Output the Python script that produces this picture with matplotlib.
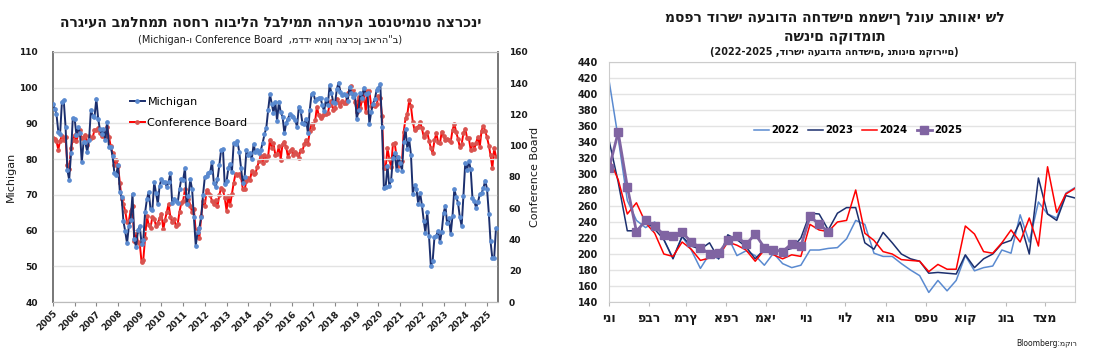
import pandas as pd
import numpy as np
import matplotlib
matplotlib.use("Agg")
import matplotlib.pyplot as plt

plt.rcParams["font.family"] = ["DejaVu Sans"]

# ---------- left panel: consumer sentiment, monthly 2005-01 .. 2025-06 ----------
michigan = [
    95.5, 94.1, 92.6, 87.7, 86.9, 96.0, 96.5, 89.1, 76.9, 74.2, 81.6, 91.5,   # 2005
    91.2, 86.7, 88.9, 87.4, 79.1, 84.9, 84.7, 82.0, 85.4, 93.6, 92.1, 91.7,   # 2006
    96.9, 91.3, 88.4, 87.1, 88.3, 85.3, 90.4, 83.4, 83.4, 80.9, 76.1, 75.5,   # 2007
    78.4, 70.8, 69.5, 62.6, 59.8, 56.4, 61.2, 63.0, 70.3, 57.6, 55.3, 60.1,   # 2008
    61.2, 56.3, 57.3, 65.1, 68.7, 70.8, 66.0, 65.7, 73.5, 70.6, 67.4, 72.5,   # 2009
    74.4, 73.6, 73.6, 72.2, 73.6, 76.0, 67.8, 68.9, 68.2, 67.7, 71.6, 74.5,   # 2010
    74.2, 77.5, 67.5, 69.8, 74.3, 71.5, 63.7, 55.8, 59.5, 60.8, 63.7, 69.9,   # 2011
    75.0, 75.3, 76.2, 76.4, 79.3, 73.2, 72.3, 74.3, 78.3, 82.6, 82.7, 72.9,   # 2012
    73.8, 77.6, 78.6, 76.4, 84.5, 84.1, 85.1, 82.1, 77.5, 73.2, 75.1, 82.5,   # 2013
    81.2, 81.6, 80.0, 84.1, 81.9, 82.5, 81.8, 82.5, 84.6, 86.9, 88.8, 93.6,   # 2014
    98.1, 95.4, 93.0, 95.9, 90.7, 96.1, 93.1, 91.9, 87.2, 90.0, 91.3, 92.6,   # 2015
    92.0, 91.7, 91.0, 89.0, 94.7, 93.5, 90.0, 89.8, 91.2, 87.2, 93.8, 98.2,   # 2016
    98.5, 96.3, 96.9, 97.0, 97.1, 95.0, 93.4, 96.8, 95.1, 100.7, 98.5, 95.9,  # 2017
    95.7, 99.7, 101.4, 98.8, 98.0, 98.2, 97.9, 96.2, 100.1, 98.6, 97.5, 98.3, # 2018
    91.2, 93.8, 98.4, 97.2, 100.0, 98.2, 98.4, 89.8, 93.2, 95.5, 96.8, 99.3,  # 2019
    99.8, 101.0, 89.1, 71.8, 72.3, 78.1, 72.5, 74.1, 80.4, 81.8, 76.9, 80.7,  # 2020
    79.0, 76.8, 84.9, 88.3, 82.9, 85.5, 81.2, 70.3, 72.8, 71.7, 67.4, 70.6,   # 2021
    67.2, 62.8, 59.4, 65.2, 58.4, 50.0, 51.5, 58.2, 58.6, 59.9, 56.8, 59.7,   # 2022
    64.9, 67.0, 62.0, 63.5, 59.0, 64.2, 71.6, 69.4, 67.8, 63.8, 61.3, 69.7,   # 2023
    79.0, 76.9, 79.4, 77.2, 69.1, 68.2, 66.4, 67.9, 70.1, 70.5, 71.8, 74.0,   # 2024
    71.7, 64.7, 57.0, 52.2, 52.2, 60.7,                                       # 2025
]

conf_board = [
    105.1, 104.4, 103.0, 97.5, 103.1, 106.2, 103.6, 105.5, 87.5, 85.2, 98.3, 103.8,
    106.8, 102.7, 107.5, 109.8, 104.7, 105.4, 107.0, 100.2, 105.9, 105.1, 105.3, 110.0,
    110.2, 111.2, 108.2, 106.3, 108.5, 105.3, 111.9, 105.6, 99.5, 95.2, 87.8, 90.6,
    87.3, 76.4, 65.9, 62.8, 58.1, 51.0, 51.9, 58.5, 61.4, 38.8, 44.7, 38.6,
    37.4, 25.3, 26.9, 40.8, 54.8, 49.3, 47.4, 54.5, 53.4, 48.7, 50.6, 53.6,
    56.5, 46.4, 52.3, 57.7, 62.7, 54.3, 51.0, 53.2, 48.6, 49.9, 57.8, 63.4,
    64.8, 72.0, 63.8, 66.0, 61.7, 57.6, 59.2, 45.2, 46.4, 40.9, 55.2, 64.8,
    61.5, 71.6, 69.5, 68.7, 64.4, 62.7, 65.4, 61.3, 68.4, 73.1, 71.5, 66.7,
    58.4, 68.0, 61.9, 69.0, 76.2, 82.1, 81.0, 81.8, 80.2, 72.4, 72.0, 77.5,
    79.4, 78.3, 83.9, 81.7, 82.2, 86.4, 90.3, 93.4, 89.0, 94.1, 91.0, 93.1,
    103.8, 98.8, 101.4, 94.3, 94.6, 99.8, 91.0, 101.3, 102.6, 99.1, 92.6, 96.3,
    97.8, 94.0, 96.1, 94.7, 92.4, 97.4, 96.7, 101.1, 103.5, 100.8, 109.4, 113.7,
    111.6, 116.1, 124.9, 119.4, 117.6, 118.9, 120.0, 120.4, 120.6, 126.2, 128.6, 123.1,
    124.3, 130.0, 127.0, 125.6, 128.8, 127.1, 127.4, 133.4, 135.3, 137.9, 135.7, 128.1,
    121.7, 131.4, 124.2, 129.2, 134.1, 121.5, 135.7, 135.1, 125.1, 125.9, 125.5, 126.5,
    131.6, 130.7, 118.8, 85.7, 85.9, 98.3, 91.7, 86.3, 101.3, 101.4, 92.9, 87.1,
    88.9, 90.4, 109.0, 117.5, 120.0, 128.9, 125.1, 115.2, 109.8, 111.6, 111.9, 115.2,
    111.1, 105.7, 107.6, 108.6, 103.2, 98.4, 95.3, 103.6, 107.8, 102.2, 101.4, 109.0,
    106.0, 103.4, 104.0, 103.7, 102.5, 110.1, 114.0, 108.7, 104.3, 99.1, 101.0, 108.0,
    110.9, 104.8, 104.7, 97.5, 101.3, 97.8, 101.9, 105.6, 99.2, 109.6, 112.8, 109.5,
    105.3, 100.1, 93.9, 85.7, 98.4, 93.0,
]

years = list(range(2005, 2026))

# ---------- right panel: weekly initial jobless claims (thousands, NSA) ----------
claims_2022 = [417, 345, 267, 242, 233, 240, 218, 195, 222, 205, 182, 200, 194,
               222, 198, 204, 198, 186, 201, 188, 183, 186, 205, 205, 207, 208,
               219, 242, 237, 201, 197, 197, 188, 180, 173, 152, 167, 154, 167,
               198, 179, 183, 185, 205, 201, 249, 215, 265, 250, 245, 276, 283]
claims_2023 = [342, 290, 229, 229, 241, 231, 218, 194, 222, 210, 206, 214, 194,
               224, 218, 209, 194, 206, 205, 204, 207, 220, 251, 250, 230, 251,
               258, 258, 214, 206, 227, 214, 200, 194, 191, 176, 177, 176, 175,
               199, 183, 194, 200, 213, 217, 240, 200, 295, 250, 242, 273, 270]
claims_2024 = [319, 293, 250, 264, 239, 226, 200, 197, 215, 206, 192, 195, 197,
               215, 211, 205, 191, 205, 199, 194, 199, 197, 237, 230, 228, 240,
               242, 280, 226, 217, 203, 200, 193, 192, 191, 178, 187, 181, 181,
               235, 225, 203, 201, 214, 230, 215, 245, 210, 309, 252, 275, 282]
claims_2025 = [307, 352, 284, 228, 242, 235, 224, 222, 227, 215, 208, 200, 201,
               217, 222, 212, 225, 208, 205, 203, 213, 210, 247, 237, 228]

months_he = ["ינו", "פבר", "מרץ", "אפר", "מאי", "יונ",
             "יול", "אוג", "ספט", "אוק", "נוב", "דצמ"]
month_start_day = [0, 31, 59, 90, 120, 151, 181, 212, 243, 273, 304, 334]

NAVY = "#1B2F6E"
LBLUE = "#5A8AD0"
RED = "#FF0000"
PINK = "#D9534F"
PURPLE = "#8064A2"
GRID = "#E3E3E3"
TXT = "#1A1A1A"

fig = plt.figure(figsize=(10.94, 3.6), dpi=100)

# ===================== left chart =====================
ax = fig.add_axes([0.0484, 0.161, 0.4066, 0.695])
ax2 = ax.twinx()

dates = pd.date_range("2005-01-01", periods=len(michigan), freq="MS")

ln1, = ax.plot(dates, michigan, color=NAVY, lw=1.4, marker="o", ms=2.4,
               mfc=LBLUE, mec=LBLUE, label="Michigan", zorder=3)
ln2, = ax2.plot(dates, conf_board, color=RED, lw=1.4, marker="o", ms=2.4,
                mfc=PINK, mec=PINK, label="Conference Board", zorder=2)

# Michigan axis on top so its line is drawn over the red one
ax.set_zorder(ax2.get_zorder() + 1)
ax.patch.set_visible(False)

ax.set_ylim(40, 110)
ax.set_yticks(range(40, 111, 10))
ax2.set_ylim(0, 160)
ax2.set_yticks(range(0, 161, 20))
ax.set_xlim(pd.Timestamp("2005-01-01"), pd.Timestamp("2025-07-01"))
ax.set_xticks([pd.Timestamp(f"{y}-01-01") for y in years])
ax.set_xticklabels([str(y) for y in years], rotation=45, ha="right",
                   rotation_mode="anchor", fontsize=6.5, fontweight="bold", color=TXT)

ax.grid(axis="y", color=GRID, lw=1.0)
ax.tick_params(axis="y", labelsize=6.5, length=0, pad=11)
ax2.tick_params(axis="y", labelsize=6.5, length=0, pad=8)
ax.tick_params(axis="x", length=3, color="#888888", pad=2)
for lab in ax.get_yticklabels() + ax2.get_yticklabels():
    lab.set_fontweight("bold")
    lab.set_color(TXT)

for a in (ax, ax2):
    a.spines["top"].set_color("#BBBBBB")
    a.spines["bottom"].set_color("#BBBBBB")
    a.spines["left"].set_color("#777777")
    a.spines["right"].set_color("#777777")
    a.spines["left"].set_linewidth(1.2)
    a.spines["right"].set_linewidth(1.2)

ax.set_ylabel("Michigan", fontsize=8, color=TXT, labelpad=2)
ax2.set_ylabel("Conference Board", fontsize=8, color=TXT, labelpad=2)

ax.legend(handles=[ln1, ln2], loc="upper left", bbox_to_anchor=(0.15, 0.86),
          frameon=False, fontsize=8, handlelength=1.4, handletextpad=0.2,
          labelspacing=1.0)

fig.text(0.247, 0.935, "הרגיעה במלחמת הסחר הובילה לבלימת ההרעה בסנטימנט הצרכני",
         ha="center", va="center", fontsize=10, fontweight="bold", color=TXT)
# text runs left-to-right, so the Latin part is written first
fig.text(0.247, 0.888, "(Michigan-ו Conference Board  ,מדדי אמון הצרכן בארה\"ב)",
         ha="center", va="center", fontsize=7, color=TXT)

# ===================== right chart =====================
bx = fig.add_axes([0.5567, 0.161, 0.4259, 0.667])

series = [
    ("2022", claims_2022, dict(color=LBLUE, lw=1.1)),
    ("2023", claims_2023, dict(color=NAVY, lw=1.1)),
    ("2024", claims_2024, dict(color=RED, lw=1.1)),
    ("2025", claims_2025, dict(color=PURPLE, lw=2.0, marker="s", ms=5.5)),
]
for name, vals, style in series:
    bx.plot(np.arange(len(vals)), vals, label=name, **style)

bx.set_xlim(0, 51)
bx.set_ylim(140, 440)
bx.set_yticks(range(140, 441, 20))
bx.grid(axis="y", color=GRID, lw=1.0)
month_pos = [d / 7 for d in month_start_day]
bx.set_xticks(month_pos)
bx.set_xticklabels(months_he, fontsize=9, fontweight="bold", color=TXT)
bx.tick_params(axis="x", length=3, color="#BBBBBB", pad=4)
bx.tick_params(axis="y", length=0, labelsize=7, pad=8)
for lab in bx.get_yticklabels():
    lab.set_fontweight("bold")
    lab.set_color(TXT)
for s in bx.spines.values():
    s.set_color("#CCCCCC")

leg = bx.legend(loc="center", bbox_to_anchor=(0.534, 0.715), ncol=4, frameon=False,
                fontsize=7.3, handlelength=1.5, handletextpad=0.2, columnspacing=0.9)
for t in leg.get_texts():
    t.set_fontweight("bold")

fig.text(0.763, 0.95, "מספר דורשי העבודה החדשים ממשיך לנוע בתוואי של",
         ha="center", va="center", fontsize=10, fontweight="bold", color=TXT)
fig.text(0.763, 0.898, "השנים הקודמות",
         ha="center", va="center", fontsize=10, fontweight="bold", color=TXT)
fig.text(0.763, 0.855, "(2022-2025 ,דורשי העבודה החדשים, נתונים מקוריים)",
         ha="center", va="center", fontsize=6.9, fontweight="bold", color=TXT)

fig.text(0.985, 0.045, "Bloomberg:מקור", ha="right", va="center",
         fontsize=5.5, color=TXT)

fig.savefig("out.png", dpi=100)
